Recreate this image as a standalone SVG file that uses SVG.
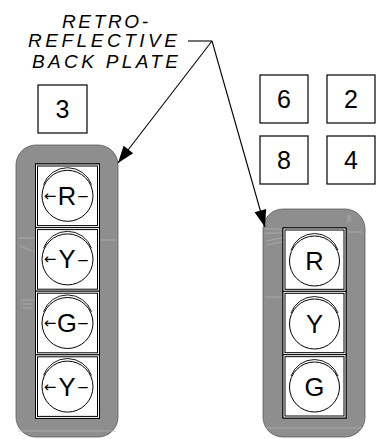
<svg xmlns="http://www.w3.org/2000/svg" width="381" height="439" viewBox="0 0 381 439">
<style>
.box{fill:#fff;stroke:#000;stroke-width:1.2}
.panel{fill:#8e8e8e;stroke:#5a5a5a;stroke-width:0.8}
.cell{fill:#fff;stroke:#000;stroke-width:1}
.inner{fill:#fff;stroke:#000;stroke-width:1}
.lens{fill:#fff;stroke:#000;stroke-width:1}
.hood{fill:none;stroke:#000;stroke-width:0.9}
.num{font-family:"Liberation Sans",Arial,sans-serif;font-size:25px;text-anchor:middle;fill:#000}
.sig{font-family:"Liberation Sans",Arial,sans-serif;font-size:25.5px;text-anchor:middle;fill:#000}
.arr{font-family:"DejaVu Sans",sans-serif;font-size:15px}
.dash{font-size:17px}
.note{font-family:"Liberation Sans",Arial,sans-serif;font-size:19px;font-style:italic;fill:#000}
.lead{fill:none;stroke:#000;stroke-width:1.1}
.tex{fill:none;stroke:#b4b4b4;stroke-width:0.7}
</style>
<defs>
<marker id="ah" markerUnits="userSpaceOnUse" markerWidth="20" markerHeight="14" refX="17" refY="0" viewBox="0 -7 20 14" orient="auto" overflow="visible">
<path d="M0,-6 L17,0 L0,6 z" fill="#000"/>
</marker>
</defs>

<g id="label">
<text class="note" x="62" y="28" textLength="86" lengthAdjust="spacing">RETRO-</text>
<text class="note" x="28" y="47" textLength="149" lengthAdjust="spacing">REFLECTIVE</text>
<text class="note" x="32" y="68" textLength="146" lengthAdjust="spacing">BACK PLATE</text>
</g>

<g id="box3"><rect class="box" x="38" y="85" width="49" height="48"/><text class="num" x="62.5" y="118">3</text></g>
<g id="box6"><rect class="box" x="260" y="75" width="48" height="48"/><text class="num" x="284" y="108">6</text></g>
<g id="box2"><rect class="box" x="327" y="75" width="48" height="48"/><text class="num" x="351" y="108">2</text></g>
<g id="box8"><rect class="box" x="260" y="136" width="48" height="48"/><text class="num" x="284" y="169">8</text></g>
<g id="box4"><rect class="box" x="327" y="136" width="48" height="48"/><text class="num" x="351" y="169">4</text></g>

<g id="left-signal">
<rect class="panel" x="16" y="145" width="102" height="292" rx="20" ry="20"/>
<g class="tex">
<path d="M18,238 H36 M98,240 H117 M20,246 L35,252 M20,300 H34 M22,304 H33 M22,308 H33 M18,431 H116"/>
</g>
<rect class="cell" x="35.5" y="164" width="64" height="254.4"/>
<rect class="cell" x="35.5" y="164" width="64" height="63.6"/>
<rect class="inner" x="37.5" y="166" width="60" height="59.6"/>
<rect class="cell" x="35.5" y="227.6" width="64" height="63.6"/>
<rect class="inner" x="37.5" y="229.6" width="60" height="59.6"/>
<rect class="cell" x="35.5" y="291.2" width="64" height="63.6"/>
<rect class="inner" x="37.5" y="293.2" width="60" height="59.6"/>
<rect class="cell" x="35.5" y="354.8" width="64" height="63.6"/>
<rect class="inner" x="37.5" y="356.8" width="60" height="59.6"/>

<circle class="lens" cx="67.5" cy="195.8" r="25.5"/>
<path class="hood" d="M43.5,184.6 A25.5,25.5 0 0 1 91.5,184.6"/>
<text class="sig"><tspan class="arr" x="50" y="200.8">←</tspan><tspan x="67" y="204.8">R</tspan><tspan class="dash" x="83" y="201">–</tspan></text>

<circle class="lens" cx="67.5" cy="259.4" r="25.5"/>
<path class="hood" d="M43.5,248.2 A25.5,25.5 0 0 1 91.5,248.2"/>
<text class="sig"><tspan class="arr" x="50" y="264.4">←</tspan><tspan x="67" y="268.4">Y</tspan><tspan class="dash" x="83" y="264.6">–</tspan></text>

<circle class="lens" cx="67.5" cy="323" r="25.5"/>
<path class="hood" d="M43.5,311.8 A25.5,25.5 0 0 1 91.5,311.8"/>
<text class="sig"><tspan class="arr" x="50" y="328">←</tspan><tspan x="67" y="332">G</tspan><tspan class="dash" x="83" y="328.2">–</tspan></text>

<circle class="lens" cx="67.5" cy="386.6" r="25.5"/>
<path class="hood" d="M43.5,375.4 A25.5,25.5 0 0 1 91.5,375.4"/>
<text class="sig"><tspan class="arr" x="50" y="391.6">←</tspan><tspan x="67" y="395.6">Y</tspan><tspan class="dash" x="83" y="391.8">–</tspan></text>
</g>

<g id="right-signal">
<rect class="panel" x="263" y="209" width="102" height="228" rx="20" ry="20"/>
<g class="tex">
<path d="M265,229 H283 M265,233 H283 M266,241 L282,238 M266,245 L282,242 M347,232 H362 M265,297 H283 M348,215 V222 M350,215 V222 M265,428 H363"/>
</g>
<rect class="cell" x="283" y="228" width="63" height="190"/>
<rect class="cell" x="283" y="228" width="63" height="63.33"/>
<rect class="inner" x="285" y="230" width="59" height="59.33"/>
<rect class="cell" x="283" y="291.33" width="63" height="63.33"/>
<rect class="inner" x="285" y="293.33" width="59" height="59.33"/>
<rect class="cell" x="283" y="354.67" width="63" height="63.33"/>
<rect class="inner" x="285" y="356.67" width="59" height="59.33"/>

<circle class="lens" cx="314.5" cy="261" r="25"/>
<path class="hood" d="M291,250 A25,25 0 0 1 338,250"/>
<text class="sig" x="314.5" y="270">R</text>

<circle class="lens" cx="314.5" cy="324" r="25"/>
<path class="hood" d="M291,313 A25,25 0 0 1 338,313"/>
<text class="sig" x="314.5" y="333">Y</text>

<circle class="lens" cx="314.5" cy="387" r="25"/>
<path class="hood" d="M291,376 A25,25 0 0 1 338,376"/>
<text class="sig" x="314.5" y="396">G</text>
</g>

<g id="connectors">
<path class="lead" d="M188,41 H212"/>
<path class="lead" d="M212,41 L118,163" marker-end="url(#ah)"/>
<path class="lead" d="M212,41 L265,227" marker-end="url(#ah)"/>
</g>
</svg>
